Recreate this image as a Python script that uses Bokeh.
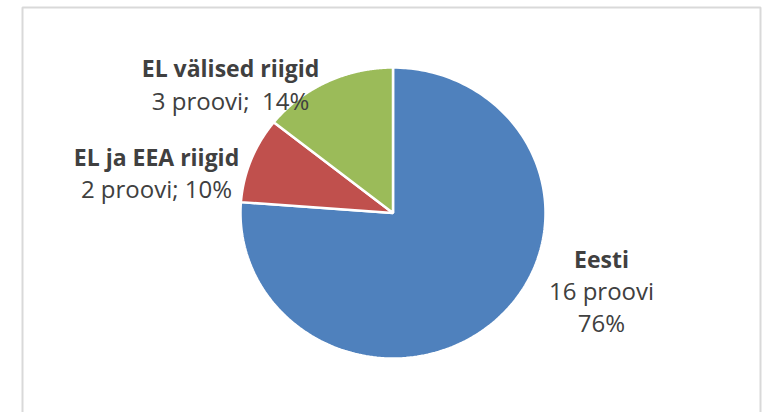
import numpy as np
from bokeh.plotting import figure
from bokeh.models import Range1d, ColumnDataSource
from bokeh.core.properties import value
from bokeh.embed import file_html
from bokeh.resources import INLINE

# ---- data ----
categories = ["Eesti", "EL ja EEA riigid", "EL välised riigid"]
counts = [16, 2, 3]
count_labels = ["16 proovi", "2 proovi; 10%", "3 proovi;\u00a0 14%"]
pct_labels = ["76%"]
colors = ["#4F81BD", "#C0504D", "#9BBB59"]

W, H = 762, 412
p = figure(width=W, height=H, output_backend="svg", toolbar_location=None,
           x_range=Range1d(0, W), y_range=Range1d(H, 0), min_border=0)
p.axis.visible = False
p.grid.visible = False
p.outline_line_color = None
p.background_fill_color = "white"
p.border_fill_color = "white"

# chart border
p.quad(left=[22], right=[760], top=[7], bottom=[425], fill_color=None,
       line_color="#d9d9d9", line_width=2)

# pie geometry (slightly stretched horizontally as in the reference)
cx, cy, rx, ry = 392.5, 212.5, 152.5, 145.5
vals = np.array(counts, dtype=float)
fr = vals / vals.sum()
ends = np.pi / 2 - np.cumsum(fr) * 2 * np.pi
starts = np.concatenate([[np.pi / 2], ends[:-1]])
xs, ys = [], []
for a0, a1 in zip(starts, ends):
    t = np.linspace(a0, a1, 200)
    xs.append(np.concatenate([[cx], cx + rx * np.cos(t), [cx]]))
    ys.append(np.concatenate([[cy], cy - ry * np.sin(t), [cy]]))
src = ColumnDataSource(dict(xs=xs, ys=ys, color=colors, cat=categories))
p.patches("xs", "ys", source=src, fill_color="color", line_color="white",
          line_width=2.5)

font = value("Open Sans")
tc = "#404040"
# label positions
lab_x = [601, 156, 230]
lab_y1 = [258, 156, 67]
lab_y2 = [290, 188, 100]
lab_y3 = [322]

p.text(x=lab_x, y=lab_y1, text=categories, text_font=font, text_font_size="23px",
       text_font_style="bold", text_color=tc, text_align="center",
       text_baseline="middle")
p.text(x=lab_x, y=lab_y2, text=count_labels, text_font=font, text_font_size="24px",
       text_color=tc, text_align="center", text_baseline="middle")
p.text(x=lab_x[:1], y=lab_y3, text=pct_labels, text_font=font,
       text_font_size="24px", text_color=tc, text_align="center",
       text_baseline="middle")

open("out.html", "w").write(file_html(p, INLINE))
